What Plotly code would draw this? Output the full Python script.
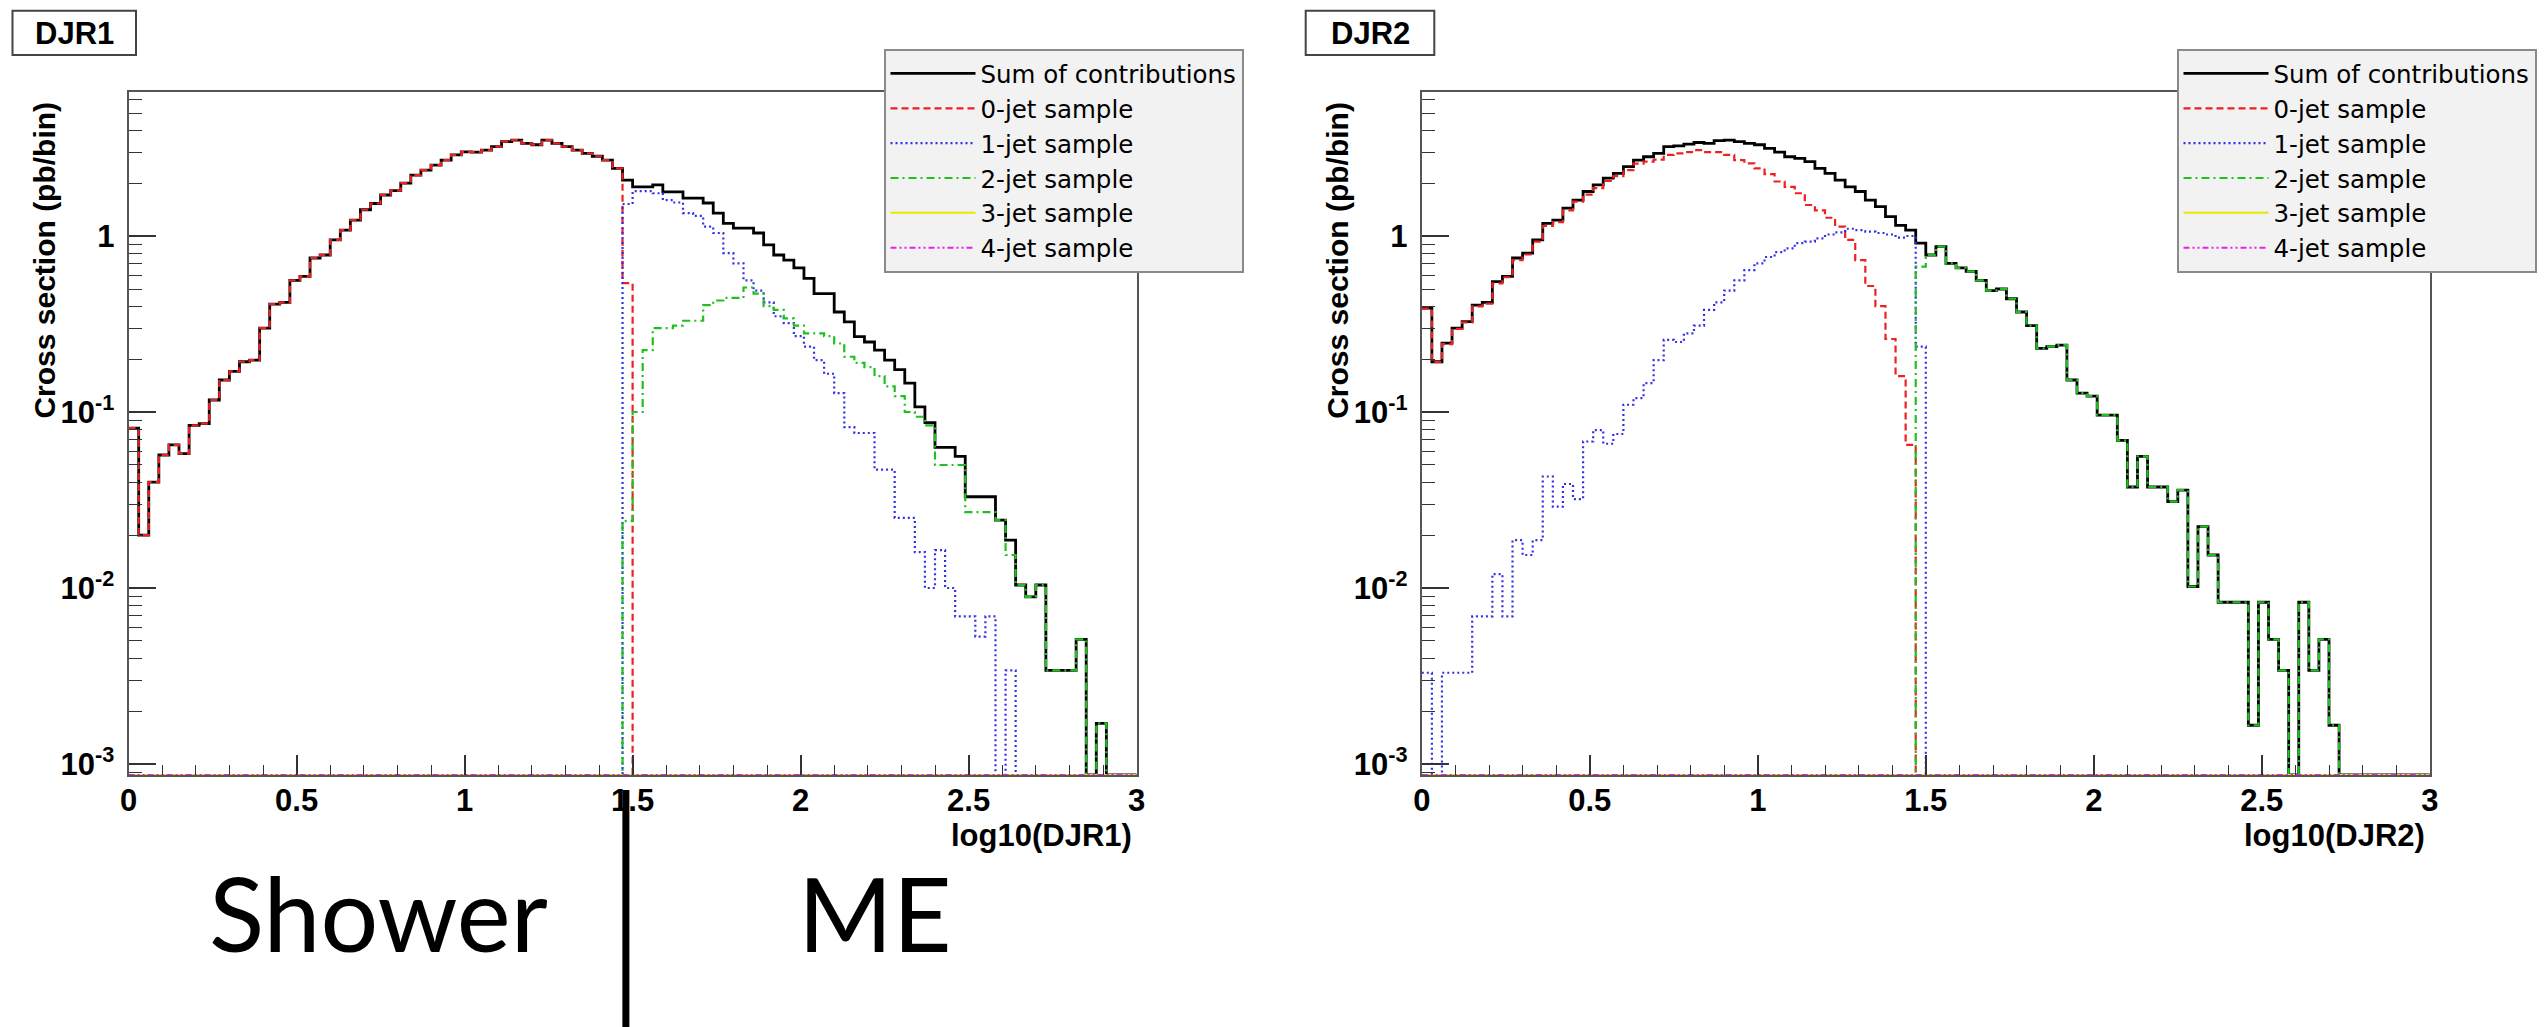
import plotly.graph_objects as go

# ---------------- data ----------------
N_BINS = 100
BIN_WIDTH = 0.03
X_MIN, X_MAX = 0.0, 3.0
Y_LOG_MIN, Y_LOG_MAX = -3.0625, 0.82
SPLIT_X = 1.48

SERIES_NAMES = ["Sum of contributions", "0-jet sample", "1-jet sample",
                "2-jet sample", "3-jet sample", "4-jet sample"]

X_TICK_VALS = [0, 0.5, 1, 1.5, 2, 2.5, 3]
X_TICK_TEXT = ["0", "0.5", "1", "1.5", "2", "2.5", "3"]
Y_TICK_VALS = [0.001, 0.01, 0.1, 1]
Y_TICK_TEXT = ["10<sup>-3</sup>", "10<sup>-2</sup>", "10<sup>-1</sup>", "1"]

PANEL_TITLES = ["DJR1", "DJR2"]
X_TITLES = ["log10(DJR1)", "log10(DJR2)"]
Y_TITLE = "Cross section (pb/bin)"
REGION_LABELS = ["Shower", "ME"]

# DJR1 panel (100 bins of 0.03 between 0 and 3)
djr1_sum = [
    0.081, 0.020, 0.040, 0.057, 0.065, 0.058, 0.084, 0.086, 0.117, 0.152,
    0.170, 0.193, 0.197, 0.300, 0.410, 0.420, 0.560, 0.590, 0.750, 0.780,
    0.950, 1.08, 1.23, 1.41, 1.53, 1.71, 1.81, 2.00, 2.22, 2.37,
    2.53, 2.70, 2.89, 3.01, 3.00, 3.08, 3.22, 3.44, 3.51, 3.36,
    3.30, 3.51, 3.36, 3.22, 3.08, 2.95, 2.84, 2.70, 2.42, 2.08,
    1.90, 1.90, 1.95, 1.78, 1.78, 1.64, 1.64, 1.54, 1.35, 1.18,
    1.11, 1.11, 1.04, 0.89, 0.78, 0.73, 0.66, 0.575, 0.47, 0.47,
    0.37, 0.325, 0.268, 0.25, 0.225, 0.197, 0.174, 0.146, 0.107, 0.087,
    0.063, 0.063, 0.056, 0.033, 0.033, 0.033, 0.0243, 0.0187, 0.0104, 0.0089,
    0.0104, 0.0034, 0.0034, 0.0034, 0.0051, 0.0, 0.0017, 0.0, 0.0, 0.0,
]
djr1_0jet = [
    0.081, 0.020, 0.040, 0.057, 0.065, 0.058, 0.084, 0.086, 0.117, 0.152,
    0.170, 0.193, 0.197, 0.300, 0.410, 0.420, 0.560, 0.590, 0.750, 0.780,
    0.950, 1.08, 1.23, 1.41, 1.53, 1.71, 1.81, 2.00, 2.22, 2.37,
    2.53, 2.70, 2.89, 3.01, 3.00, 3.08, 3.22, 3.44, 3.51, 3.36,
    3.30, 3.51, 3.36, 3.22, 3.08, 2.95, 2.84, 2.70, 2.42, 0.54,
    0.0, 0.0, 0.0, 0.0, 0.0, 0.0, 0.0, 0.0, 0.0, 0.0,
    0.0, 0.0, 0.0, 0.0, 0.0, 0.0, 0.0, 0.0, 0.0, 0.0,
    0.0, 0.0, 0.0, 0.0, 0.0, 0.0, 0.0, 0.0, 0.0, 0.0,
    0.0, 0.0, 0.0, 0.0, 0.0, 0.0, 0.0, 0.0, 0.0, 0.0,
    0.0, 0.0, 0.0, 0.0, 0.0, 0.0, 0.0, 0.0, 0.0, 0.0,
]
djr1_1jet = [
    0.0, 0.0, 0.0, 0.0, 0.0, 0.0, 0.0, 0.0, 0.0, 0.0,
    0.0, 0.0, 0.0, 0.0, 0.0, 0.0, 0.0, 0.0, 0.0, 0.0,
    0.0, 0.0, 0.0, 0.0, 0.0, 0.0, 0.0, 0.0, 0.0, 0.0,
    0.0, 0.0, 0.0, 0.0, 0.0, 0.0, 0.0, 0.0, 0.0, 0.0,
    0.0, 0.0, 0.0, 0.0, 0.0, 0.0, 0.0, 0.0, 0.0, 1.52,
    1.80, 1.80, 1.75, 1.60, 1.55, 1.35, 1.30, 1.13, 1.04, 0.80,
    0.70, 0.56, 0.49, 0.42, 0.35, 0.32, 0.27, 0.235, 0.197, 0.165,
    0.128, 0.082, 0.076, 0.076, 0.047, 0.047, 0.025, 0.025, 0.016, 0.010,
    0.0164, 0.010, 0.0069, 0.0069, 0.0053, 0.0069, 0.0, 0.0034, 0.0, 0.0,
    0.0, 0.0, 0.0, 0.0, 0.0, 0.0, 0.0, 0.0, 0.0, 0.0,
]
djr1_2jet = [
    0.0, 0.0, 0.0, 0.0, 0.0, 0.0, 0.0, 0.0, 0.0, 0.0,
    0.0, 0.0, 0.0, 0.0, 0.0, 0.0, 0.0, 0.0, 0.0, 0.0,
    0.0, 0.0, 0.0, 0.0, 0.0, 0.0, 0.0, 0.0, 0.0, 0.0,
    0.0, 0.0, 0.0, 0.0, 0.0, 0.0, 0.0, 0.0, 0.0, 0.0,
    0.0, 0.0, 0.0, 0.0, 0.0, 0.0, 0.0, 0.0, 0.0, 0.024,
    0.10, 0.225, 0.30, 0.30, 0.31, 0.33, 0.33, 0.405, 0.43, 0.445,
    0.445, 0.51, 0.47, 0.40, 0.38, 0.34, 0.31, 0.28, 0.28, 0.27,
    0.245, 0.206, 0.19, 0.18, 0.16, 0.14, 0.123, 0.10, 0.094, 0.084,
    0.05, 0.05, 0.05, 0.027, 0.027, 0.027, 0.0243, 0.0154, 0.0104, 0.0089,
    0.0104, 0.0034, 0.0034, 0.0034, 0.0051, 0.0, 0.0017, 0.0, 0.0, 0.0,
]
djr1_3jet = [
    0.0, 0.0, 0.0, 0.0, 0.0, 0.0, 0.0, 0.0, 0.0, 0.0,
    0.0, 0.0, 0.0, 0.0, 0.0, 0.0, 0.0, 0.0, 0.0, 0.0,
    0.0, 0.0, 0.0, 0.0, 0.0, 0.0, 0.0, 0.0, 0.0, 0.0,
    0.0, 0.0, 0.0, 0.0, 0.0, 0.0, 0.0, 0.0, 0.0, 0.0,
    0.0, 0.0, 0.0, 0.0, 0.0, 0.0, 0.0, 0.0, 0.0, 0.0,
    0.0, 0.0, 0.0, 0.0, 0.0, 0.0, 0.0, 0.0, 0.0, 0.0,
    0.0, 0.0, 0.0, 0.0, 0.0, 0.0, 0.0, 0.0, 0.0, 0.0,
    0.0, 0.0, 0.0, 0.0, 0.0, 0.0, 0.0, 0.0, 0.0, 0.0,
    0.0, 0.0, 0.0, 0.0, 0.0, 0.0, 0.0, 0.0, 0.0, 0.0,
    0.0, 0.0, 0.0, 0.0, 0.0, 0.0, 0.0, 0.0, 0.0, 0.0,
]
djr1_4jet = list(djr1_3jet)

# DJR2 panel
djr2_sum = [
    0.39, 0.193, 0.246, 0.30, 0.326, 0.405, 0.42, 0.55, 0.59, 0.75,
    0.80, 0.95, 1.18, 1.23, 1.44, 1.60, 1.79, 1.95, 2.13, 2.27,
    2.48, 2.70, 2.82, 2.95, 3.22, 3.25, 3.33, 3.40, 3.36, 3.48,
    3.51, 3.44, 3.36, 3.30, 3.15, 3.00, 2.82, 2.76, 2.65, 2.42,
    2.27, 2.08, 1.90, 1.79, 1.60, 1.47, 1.29, 1.15, 1.08, 0.91,
    0.78, 0.87, 0.70, 0.66, 0.63, 0.56, 0.49, 0.50, 0.44, 0.37,
    0.31, 0.23, 0.235, 0.24, 0.152, 0.128, 0.123, 0.096, 0.096, 0.069,
    0.0375, 0.056, 0.0375, 0.0375, 0.031, 0.036, 0.0102, 0.0223, 0.0154, 0.0083,
    0.0083, 0.0083, 0.00166, 0.0083, 0.0051, 0.0034, 0.0, 0.0083, 0.0034, 0.0051,
    0.00166, 0.0, 0.0, 0.0, 0.0, 0.0, 0.0, 0.0, 0.0, 0.0,
]
djr2_0jet = [
    0.387, 0.192, 0.243, 0.297, 0.323, 0.398, 0.413, 0.538, 0.583, 0.73,
    0.785, 0.93, 1.14, 1.20, 1.40, 1.57, 1.72, 1.87, 2.06, 2.19,
    2.37, 2.58, 2.65, 2.72, 2.89, 2.95, 3.00, 3.08, 3.00, 3.00,
    2.89, 2.70, 2.59, 2.42, 2.25, 2.04, 1.90, 1.75, 1.50, 1.40,
    1.27, 1.13, 0.95, 0.73, 0.52, 0.40, 0.26, 0.16, 0.065, 0.0,
    0.0, 0.0, 0.0, 0.0, 0.0, 0.0, 0.0, 0.0, 0.0, 0.0,
    0.0, 0.0, 0.0, 0.0, 0.0, 0.0, 0.0, 0.0, 0.0, 0.0,
    0.0, 0.0, 0.0, 0.0, 0.0, 0.0, 0.0, 0.0, 0.0, 0.0,
    0.0, 0.0, 0.0, 0.0, 0.0, 0.0, 0.0, 0.0, 0.0, 0.0,
    0.0, 0.0, 0.0, 0.0, 0.0, 0.0, 0.0, 0.0, 0.0, 0.0,
]
djr2_1jet = [
    0.0033, 0.0, 0.0033, 0.0033, 0.0033, 0.0069, 0.0069, 0.012, 0.0069, 0.0187,
    0.0154, 0.0187, 0.043, 0.029, 0.039, 0.032, 0.068, 0.079, 0.066, 0.075,
    0.11, 0.12, 0.146, 0.197, 0.257, 0.25, 0.28, 0.31, 0.38, 0.42,
    0.49, 0.56, 0.64, 0.70, 0.76, 0.81, 0.85, 0.91, 0.93, 0.97,
    1.02, 1.05, 1.10, 1.08, 1.06, 1.04, 1.02, 0.98, 1.00, 0.235,
    0.0, 0.0, 0.0, 0.0, 0.0, 0.0, 0.0, 0.0, 0.0, 0.0,
    0.0, 0.0, 0.0, 0.0, 0.0, 0.0, 0.0, 0.0, 0.0, 0.0,
    0.0, 0.0, 0.0, 0.0, 0.0, 0.0, 0.0, 0.0, 0.0, 0.0,
    0.0, 0.0, 0.0, 0.0, 0.0, 0.0, 0.0, 0.0, 0.0, 0.0,
    0.0, 0.0, 0.0, 0.0, 0.0, 0.0, 0.0, 0.0, 0.0, 0.0,
]
djr2_2jet = [
    0.0, 0.0, 0.0, 0.0, 0.0, 0.0, 0.0, 0.0, 0.0, 0.0,
    0.0, 0.0, 0.0, 0.0, 0.0, 0.0, 0.0, 0.0, 0.0, 0.0,
    0.0, 0.0, 0.0, 0.0, 0.0, 0.0, 0.0, 0.0, 0.0, 0.0,
    0.0, 0.0, 0.0, 0.0, 0.0, 0.0, 0.0, 0.0, 0.0, 0.0,
    0.0, 0.0, 0.0, 0.0, 0.0, 0.0, 0.0, 0.0, 0.0, 0.67,
    0.78, 0.87, 0.70, 0.66, 0.63, 0.56, 0.49, 0.50, 0.44, 0.37,
    0.31, 0.23, 0.235, 0.24, 0.152, 0.128, 0.123, 0.096, 0.096, 0.069,
    0.0375, 0.056, 0.0375, 0.0375, 0.031, 0.036, 0.0102, 0.0223, 0.0154, 0.0083,
    0.0083, 0.0083, 0.00166, 0.0083, 0.0051, 0.0034, 0.0, 0.0083, 0.0034, 0.0051,
    0.00166, 0.0, 0.0, 0.0, 0.0, 0.0, 0.0, 0.0, 0.0, 0.0,
]
djr2_3jet = list(djr1_3jet)
djr2_4jet = list(djr1_3jet)

PANELS = [
    [djr1_sum, djr1_0jet, djr1_1jet, djr1_2jet, djr1_3jet, djr1_4jet],
    [djr2_sum, djr2_0jet, djr2_1jet, djr2_2jet, djr2_3jet, djr2_4jet],
]

# ---------------- styles ----------------
COLORS = ["#000000", "#ee2020", "#3030e8", "#20c020", "#e8e800", "#e820e8"]
DASHES = ["solid", "7px,4px", "2px,3px", "8px,4px,2px,4px", "solid", "6px,3px,2px,3px,2px,3px"]
WIDTHS = [2.8, 2.2, 2.2, 2.2, 2.0, 2.0]

W, H = 2547, 1027
FRAME_L = [128.6, 1421.8]
FRAME_W = 1008.0
FRAME_TOP, FRAME_BOT = 91.7, 775.0
FONT = "Liberation Sans, Arial, sans-serif"
LEGEND_FONT = "DejaVu Sans, Liberation Sans, sans-serif"


def px(x):
    return x / W


def py(y):
    return 1 - y / H


edges = [X_MIN + i * BIN_WIDTH for i in range(N_BINS + 1)]
y_floor = 10 ** Y_LOG_MIN

fig = go.Figure()
for p, series in enumerate(PANELS):
    xa = "x" if p == 0 else "x2"
    ya = "y" if p == 0 else "y2"
    lg = "legend" if p == 0 else "legend2"
    for k, vals in enumerate(series):
        ys = [max(v, y_floor) for v in vals]
        ys = ys + [ys[-1]]
        fig.add_trace(go.Scatter(
            x=edges, y=ys, mode="lines", line_shape="hv",
            name=SERIES_NAMES[k],
            line=dict(color=COLORS[k], dash=DASHES[k], width=WIDTHS[k]),
            xaxis=xa, yaxis=ya, legend=lg, showlegend=True,
            hoverinfo="skip",
        ))

minor_y = [m * 10 ** e for e in range(-4, 1) for m in range(2, 10)]

tickfont = dict(family=FONT, size=31, color="black", weight="bold")


def xaxis_cfg(p):
    return dict(
        domain=[px(FRAME_L[p]), px(FRAME_L[p] + FRAME_W)],
        range=[X_MIN, X_MAX], anchor="y" if p == 0 else "y2",
        tickmode="array", tickvals=X_TICK_VALS, ticktext=X_TICK_TEXT,
        ticks="inside", ticklen=20, tickwidth=1.5, tickcolor="#333",
        minor=dict(ticks="inside", ticklen=10, tickwidth=1.3, tickcolor="#333",
                   tickmode="linear", tick0=0, dtick=0.1, showgrid=False),
        showgrid=False, zeroline=False,
        showline=True, linecolor="#555", linewidth=2, mirror=True,
        tickfont=tickfont, automargin=False, ticklabelstandoff=-3,
    )


def yaxis_cfg(p):
    return dict(
        domain=[py(FRAME_BOT), py(FRAME_TOP)],
        type="log", range=[Y_LOG_MIN, Y_LOG_MAX], anchor="x" if p == 0 else "x2",
        tickmode="array", tickvals=Y_TICK_VALS, ticktext=Y_TICK_TEXT,
        ticks="inside", ticklen=27, tickwidth=1.5, tickcolor="#333",
        minor=dict(ticks="inside", ticklen=13, tickwidth=1.3, tickcolor="#333",
                   tickmode="array", tickvals=minor_y, showgrid=False),
        showgrid=False, zeroline=False,
        showline=True, linecolor="#555", linewidth=2, mirror=True,
        tickfont=tickfont, automargin=False, ticklabelstandoff=6,
    )


legend_common = dict(
    xanchor="left", yanchor="top", bgcolor="#f2f2f2",
    bordercolor="#8a8a8a", borderwidth=2,
    font=dict(family=LEGEND_FONT, size=24.5, color="black"),
    itemwidth=85, tracegroupgap=0, traceorder="normal",
)

shapes = []
annotations = []
title_boxes = [(12.5, 136.0), (1305.7, 1434.3)]
for p in range(2):
    x0, x1 = title_boxes[p]
    shapes.append(dict(type="rect", xref="paper", yref="paper",
                       x0=px(x0), x1=px(x1), y0=py(55), y1=py(10.7),
                       line=dict(color="#444", width=2), fillcolor="white", layer="above"))
    annotations.append(dict(text=PANEL_TITLES[p], xref="paper", yref="paper",
                            x=px((x0 + x1) / 2), y=py(33), xanchor="center", yanchor="middle",
                            showarrow=False, font=dict(family=FONT, size=31, color="black", weight="bold")))
    annotations.append(dict(text=Y_TITLE, xref="paper", yref="paper",
                            x=px(FRAME_L[p] - 85), y=py(260), xanchor="center", yanchor="middle",
                            textangle=-90, showarrow=False,
                            font=dict(family=FONT, size=30, color="black", weight="bold")))
    annotations.append(dict(text=X_TITLES[p], xref="paper", yref="paper",
                            x=px(FRAME_L[p] + FRAME_W - 3), y=py(835), xanchor="right", yanchor="middle",
                            showarrow=False,
                            font=dict(family=FONT, size=31, color="black", weight="bold")))

# Shower / ME annotation below the DJR1 panel
shapes.append(dict(type="line", xref="x", yref="paper", x0=SPLIT_X, x1=SPLIT_X,
                   y0=0, y1=py(790), line=dict(color="black", width=7)))
annotations.append(dict(text=REGION_LABELS[0], xref="x", yref="paper", x=0.745, y=py(912),
                        xanchor="center", yanchor="middle", showarrow=False,
                        font=dict(family="Lato, Open Sans, sans-serif", size=102, color="black")))
annotations.append(dict(text=REGION_LABELS[1], xref="x", yref="paper", x=2.22, y=py(912),
                        xanchor="center", yanchor="middle", showarrow=False,
                        font=dict(family="Lato, Open Sans, sans-serif", size=102, color="black")))

fig.update_layout(
    width=W, height=H, autosize=False,
    margin=dict(l=0, r=0, t=0, b=0, pad=0),
    paper_bgcolor="white", plot_bgcolor="white",
    xaxis=xaxis_cfg(0), yaxis=yaxis_cfg(0),
    xaxis2=xaxis_cfg(1), yaxis2=yaxis_cfg(1),
    legend=dict(x=px(883.5), y=py(49), **legend_common),
    legend2=dict(x=px(2176.5), y=py(49), **legend_common),
    shapes=shapes, annotations=annotations,
    showlegend=True,
)

fig.write_html("out.html", config={"displayModeBar": False},
               post_script="document.body.style.margin='0';document.body.style.overflow='hidden';")
